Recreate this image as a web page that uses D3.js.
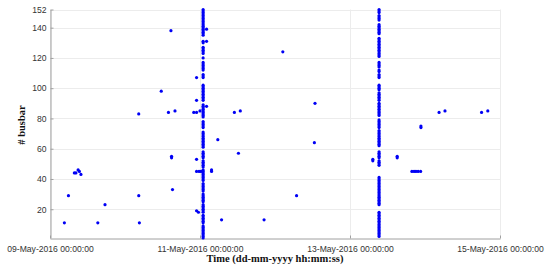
<!DOCTYPE html>
<html>
<head>
<meta charset="utf-8">
<script src="https://cdn.jsdelivr.net/npm/d3@7"></script>
<style>
  body { margin: 0; background: #fff; }
  svg { display: block; }
</style>
</head>
<body>
<script>
// scattered events: time + busbar number
var eventTimes = [
  "09-05-2016 04:36", "09-05-2016 05:54", "09-05-2016 07:48", "09-05-2016 08:18", "09-05-2016 09:00",
  "09-05-2016 09:24", "09-05-2016 09:54", "09-05-2016 15:18", "09-05-2016 17:36", "10-05-2016 04:24",
  "10-05-2016 04:24", "10-05-2016 04:36", "10-05-2016 11:36", "10-05-2016 13:54", "10-05-2016 14:42",
  "10-05-2016 14:54", "10-05-2016 14:54", "10-05-2016 15:12", "10-05-2016 16:00", "10-05-2016 22:00",
  "10-05-2016 22:54", "10-05-2016 22:54", "10-05-2016 22:54", "10-05-2016 22:54", "10-05-2016 22:54",
  "10-05-2016 22:54", "10-05-2016 23:30", "10-05-2016 23:42", "11-05-2016 00:00", "11-05-2016 00:18",
  "11-05-2016 02:06", "11-05-2016 02:06", "11-05-2016 02:06", "11-05-2016 03:42", "11-05-2016 03:42",
  "11-05-2016 05:42", "11-05-2016 06:54", "11-05-2016 11:00", "11-05-2016 12:18", "11-05-2016 12:54",
  "11-05-2016 20:30", "12-05-2016 02:30", "12-05-2016 06:54", "12-05-2016 12:36", "12-05-2016 12:48",
  "13-05-2016 07:18", "13-05-2016 07:18", "13-05-2016 15:06", "13-05-2016 15:06", "13-05-2016 19:48",
  "13-05-2016 20:30", "13-05-2016 21:06", "13-05-2016 21:48", "13-05-2016 22:36", "13-05-2016 22:42",
  "13-05-2016 22:42", "14-05-2016 04:30", "14-05-2016 06:24", "14-05-2016 18:06", "14-05-2016 20:06"
];
var eventBusbars = [
  11, 29, 44, 44, 46,
  45, 43, 11, 23, 83,
  29, 11, 98, 84, 138,
  55, 54, 33, 85, 84,
  84, 92, 107, 53, 45,
  19, 18, 45, 85, 45,
  139, 131, 88, 46, 45,
  66, 13, 84, 57, 85,
  13, 124, 29, 64, 90,
  53, 52, 55, 54, 45,
  45, 45, 45, 45, 75,
  74, 84, 85, 84, 85
];

// two bursts where nearly every busbar reported
var burst1Time = "11-05-2016 01:00";
var burst1Busbars = [
  152, 151, 150, 149, 148, 147, 146, 145, 144, 143, 142, 141, 140, 139, 138, 137, 136, 135,
  131, 130, 127, 126, 125, 124, 123, 120, 117, 116, 115, 114, 113, 112, 109, 108, 107,
  102, 101, 100, 99, 98, 97, 96, 95, 94, 93, 92, 89, 88, 87, 86, 85, 84, 83, 82, 81,
  78, 77, 76, 75, 74, 71, 70, 69, 68, 67, 66, 65, 64, 63, 62, 61, 58, 57, 56, 55, 54,
  52, 51, 50, 49, 48, 46, 45, 44, 43, 42, 41, 40, 39, 37, 36, 35, 34, 33, 32, 30, 29,
  28, 27, 26, 25, 23, 22, 21, 20, 19, 18, 16, 15, 14, 13, 12, 11, 9, 8, 7, 6, 5, 4, 3, 2, 1
];
var burst2Time = "13-05-2016 09:18";
var burst2Busbars = [
  152, 151, 150, 148, 147, 146, 145, 142, 141, 140, 139, 138, 137, 136,
  133, 132, 131, 130, 129, 128, 127, 126, 125, 124, 123, 122, 121, 117, 116, 115, 114,
  112, 111, 109, 108, 107, 102, 101, 100, 99, 97, 96, 95, 94, 93, 92,
  90, 89, 88, 87, 86, 85, 84, 83, 82, 79, 78, 77, 76, 75, 74,
  72, 71, 70, 69, 68, 67, 66, 65, 64, 63, 62, 58, 57, 56, 55, 54, 52, 51, 50, 49,
  41, 40, 39, 38, 37, 36, 35, 34, 33, 32, 31, 30, 29, 28, 27, 26, 25, 24, 23,
  18, 17, 16, 15, 14, 13, 12, 11, 10, 9, 8, 7, 6, 5, 4, 3, 2
];

var xTicks = ["09-05-2016 00:00", "11-05-2016 00:00", "13-05-2016 00:00", "15-05-2016 00:00"];
var yTicks = [20, 40, 60, 80, 100, 120, 140, 152];

var W = 550, H = 272;
var margin = {top: 9.5, right: 50, bottom: 34, left: 50};

var parse = d3.timeParse("%d-%m-%Y %H:%M");
var fmt = d3.timeFormat("%d-%b-%Y %H:%M:%S");

var points = eventTimes.map(function(t, i) { return {t: parse(t), v: eventBusbars[i]}; });
burst1Busbars.forEach(function(v) { points.push({t: parse(burst1Time), v: v}); });
burst2Busbars.forEach(function(v) { points.push({t: parse(burst2Time), v: v}); });

var svg = d3.select("body").append("svg")
    .attr("width", W)
    .attr("height", H);

var x = d3.scaleTime()
    .domain([parse(xTicks[0]), parse(xTicks[xTicks.length - 1])])
    .range([margin.left, W - margin.right]);
var y = d3.scaleLinear()
    .domain([1, 152])
    .range([H - margin.bottom, margin.top]);

// grid
var grid = svg.append("g").attr("stroke", "#ececec").attr("stroke-width", 1);
grid.selectAll(".hg").data(yTicks).enter().append("line")
    .attr("x1", margin.left).attr("x2", W - margin.right)
    .attr("y1", function(d) { return Math.round(y(d)) + 0.5; })
    .attr("y2", function(d) { return Math.round(y(d)) + 0.5; });
grid.selectAll(".vg").data(xTicks.map(parse)).enter().append("line")
    .attr("y1", margin.top).attr("y2", H - margin.bottom)
    .attr("x1", function(d) { return Math.round(x(d)) + 0.5; })
    .attr("x2", function(d) { return Math.round(x(d)) + 0.5; });

// axes
var xAxis = svg.append("g")
    .attr("transform", "translate(0," + (Math.round(H - margin.bottom) + 0.5) + ")")
    .call(d3.axisBottom(x).tickValues(xTicks.map(parse)).tickFormat(fmt).tickSizeInner(-3).tickSizeOuter(0).tickPadding(7));
var yAxis = svg.append("g")
    .attr("transform", "translate(" + (margin.left + 0.5) + ",0)")
    .call(d3.axisLeft(y).tickValues(yTicks).tickSizeInner(-3).tickSizeOuter(0).tickPadding(4));

[xAxis, yAxis].forEach(function(a) {
  a.select(".domain").attr("stroke", "#a0a0a0");
  a.selectAll(".tick line").attr("stroke", "#a0a0a0");
  a.selectAll(".tick text")
    .attr("fill", "#333")
    .style("font-family", "'Liberation Sans', Arial, sans-serif")
    .style("font-size", "8.6px");
});

// dots
svg.append("g").selectAll("circle")
    .data(points)
    .enter()
    .append("circle")
    .attr("cx", function(d) { return x(d.t); })
    .attr("cy", function(d) { return y(d.v); })
    .attr("r", 1.6)
    .attr("fill", "#0000f5");

// labels
svg.append("text")
    .attr("x", 275).attr("y", 262)
    .attr("text-anchor", "middle")
    .style("font-family", "'Liberation Serif', 'DejaVu Serif', serif")
    .style("font-weight", "bold")
    .style("font-size", "10.5px")
    .attr("fill", "#111")
    .text("Time (dd-mm-yyyy hh:mm:ss)");

svg.append("text")
    .attr("transform", "translate(25,125) rotate(-90)")
    .attr("text-anchor", "middle")
    .style("font-family", "'Liberation Serif', 'DejaVu Serif', serif")
    .style("font-weight", "bold")
    .style("font-size", "10.5px")
    .attr("fill", "#111")
    .text("# busbar");
</script>
</body>
</html>
